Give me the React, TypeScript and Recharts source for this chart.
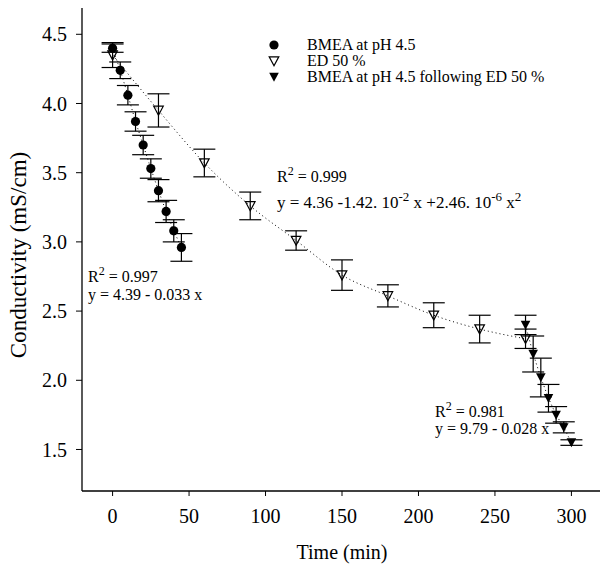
import React from 'react';
import { ComposedChart, Scatter, Line, XAxis, YAxis, ErrorBar } from 'recharts';

// BMEA at pH 4.5
const bmeaTime = [0, 5, 10, 15, 20, 25, 30, 35, 40, 45];
const bmeaCond = [4.40, 4.24, 4.06, 3.87, 3.70, 3.53, 3.37, 3.22, 3.08, 2.96];
const bmeaErr = [0.03, 0.06, 0.07, 0.07, 0.07, 0.07, 0.08, 0.08, 0.08, 0.10];

// ED 50 %
const edTime = [0, 30, 60, 90, 120, 150, 180, 210, 240, 270];
const edCond = [4.35, 3.95, 3.57, 3.26, 3.01, 2.76, 2.61, 2.47, 2.37, 2.30];
const edErr = [0.09, 0.12, 0.10, 0.10, 0.07, 0.11, 0.08, 0.09, 0.10, 0.07];

// BMEA at pH 4.5 following ED 50 %
const afterTime = [270, 275, 280, 285, 290, 295, 300];
const afterCond = [2.40, 2.19, 2.02, 1.87, 1.75, 1.66, 1.55];
const afterErr = [0.07, 0.13, 0.14, 0.10, 0.06, 0.04, 0.02];

const xTicks = [0, 50, 100, 150, 200, 250, 300];
const yTicks = [1.5, 2.0, 2.5, 3.0, 3.5, 4.0, 4.5];

const rows = (ts: number[], vs: number[], es: number[]) =>
  ts.map((t, i) => ({ t, v: vs[i], e: es[i] }));

const bmea = rows(bmeaTime, bmeaCond, bmeaErr);
const ed = rows(edTime, edCond, edErr);
const after = rows(afterTime, afterCond, afterErr);

const FONT = '"Liberation Serif", "Times New Roman", serif';

const Dot = (props: any) => <circle cx={props.cx} cy={props.cy} r={4.6} fill="#000" />;
const triPath = (cx: number, cy: number) =>
  `M${cx - 4.8},${cy - 4.2} L${cx + 4.8},${cy - 4.2} L${cx},${cy + 4.8} Z`;
const OpenTri = (props: any) => (
  <path d={triPath(props.cx, props.cy)} fill="none" stroke="#000" strokeWidth={1.2} />
);
const FillTri = (props: any) => <path d={triPath(props.cx, props.cy)} fill="#000" />;

const dotted = { stroke: '#000', strokeWidth: 1, strokeDasharray: '1 3' };

export default function App() {
  return (
    <div style={{ position: 'absolute', left: 0, top: 0, width: 600, height: 567, overflow: 'hidden', background: '#fff' }}>
      <ComposedChart width={604} height={567} margin={{ top: 8, right: 2, bottom: 0, left: 0 }}>
        <XAxis
          type="number"
          dataKey="t"
          domain={[-20, 320]}
          ticks={xTicks}
          allowDataOverflow
          height={76}
          tickSize={5}
          tickMargin={13}
          axisLine={{ stroke: '#000', strokeWidth: 1.3 }}
          tickLine={{ stroke: '#000' }}
          tick={{ fill: '#000', fontSize: 20, fontFamily: FONT }}
        />
        <XAxis
          xAxisId="top"
          orientation="top"
          type="number"
          domain={[-20, 320]}
          height={0}
          tick={false}
          tickLine={false}
          axisLine={{ stroke: '#000', strokeWidth: 1.3 }}
        />
        <YAxis
          type="number"
          dataKey="v"
          domain={[1.2, 4.69]}
          ticks={yTicks}
          allowDataOverflow
          width={82}
          tickSize={6}
          tickMargin={9}
          tickFormatter={(v: number) => v.toFixed(1)}
          axisLine={{ stroke: '#000', strokeWidth: 1.3 }}
          tickLine={{ stroke: '#000' }}
          tick={{ fill: '#000', fontSize: 20, fontFamily: FONT }}
        />

        <Line data={bmea} dataKey="v" type="linear" {...dotted} dot={false} activeDot={false} isAnimationActive={false} />
        <Line data={ed} dataKey="v" type="monotone" {...dotted} dot={false} activeDot={false} isAnimationActive={false} />
        <Line data={after} dataKey="v" type="linear" {...dotted} dot={false} activeDot={false} isAnimationActive={false} />

        <Scatter data={ed} dataKey="v" shape={OpenTri} isAnimationActive={false}>
          <ErrorBar dataKey="e" direction="y" width={11} stroke="#000" strokeWidth={1.2} isAnimationActive={false} />
        </Scatter>
        <Scatter data={bmea} dataKey="v" shape={Dot} isAnimationActive={false}>
          <ErrorBar dataKey="e" direction="y" width={11} stroke="#000" strokeWidth={1.2} isAnimationActive={false} />
        </Scatter>
        <Scatter data={after} dataKey="v" shape={FillTri} isAnimationActive={false}>
          <ErrorBar dataKey="e" direction="y" width={11} stroke="#000" strokeWidth={1.2} isAnimationActive={false} />
        </Scatter>
      </ComposedChart>

      <svg width={600} height={567} style={{ position: 'absolute', left: 0, top: 0, pointerEvents: 'none' }} fontFamily={FONT} fill="#000">
        {/* legend */}
        <circle cx={274} cy={45} r={4.6} fill="#000" />
        <path d={triPath(274, 61)} fill="none" stroke="#000" strokeWidth={1.2} />
        <path d={triPath(274, 77)} fill="#000" />
        <text x={307} y={50} fontSize={16}>BMEA at pH 4.5</text>
        <text x={307} y={66} fontSize={16}>ED 50 %</text>
        <text x={307} y={82} fontSize={16}>BMEA at pH 4.5 following ED 50 %</text>

        {/* fit annotations */}
        <text x={88} y={282} fontSize={16}>
          R<tspan dy={-7} fontSize={12}>2</tspan><tspan dy={7}> = 0.997</tspan>
        </text>
        <text x={88} y={300} fontSize={16}>y = 4.39 - 0.033 x</text>

        <text x={277} y={182} fontSize={16}>
          R<tspan dy={-7} fontSize={12}>2</tspan><tspan dy={7}> = 0.999</tspan>
        </text>
        <text x={277} y={208} fontSize={17}>
          y = 4.36 -1.42. 10<tspan dy={-7} fontSize={13}>-2</tspan>
          <tspan dy={7}> x +2.46. 10</tspan>
          <tspan dy={-7} fontSize={13}>-6</tspan>
          <tspan dy={7}> x</tspan>
          <tspan dy={-7} fontSize={13}>2</tspan>
        </text>

        <text x={435} y={417} fontSize={16}>
          R<tspan dy={-7} fontSize={12}>2</tspan><tspan dy={7}> = 0.981</tspan>
        </text>
        <text x={435} y={434} fontSize={16}>y = 9.79 - 0.028 x</text>

        {/* axis titles */}
        <text x={342} y={559} fontSize={20} textAnchor="middle">Time (min)</text>
        <text x={0} y={0} fontSize={23} textAnchor="middle" transform="translate(26,255) rotate(-90)">Conductivity (mS/cm)</text>
      </svg>
    </div>
  );
}
